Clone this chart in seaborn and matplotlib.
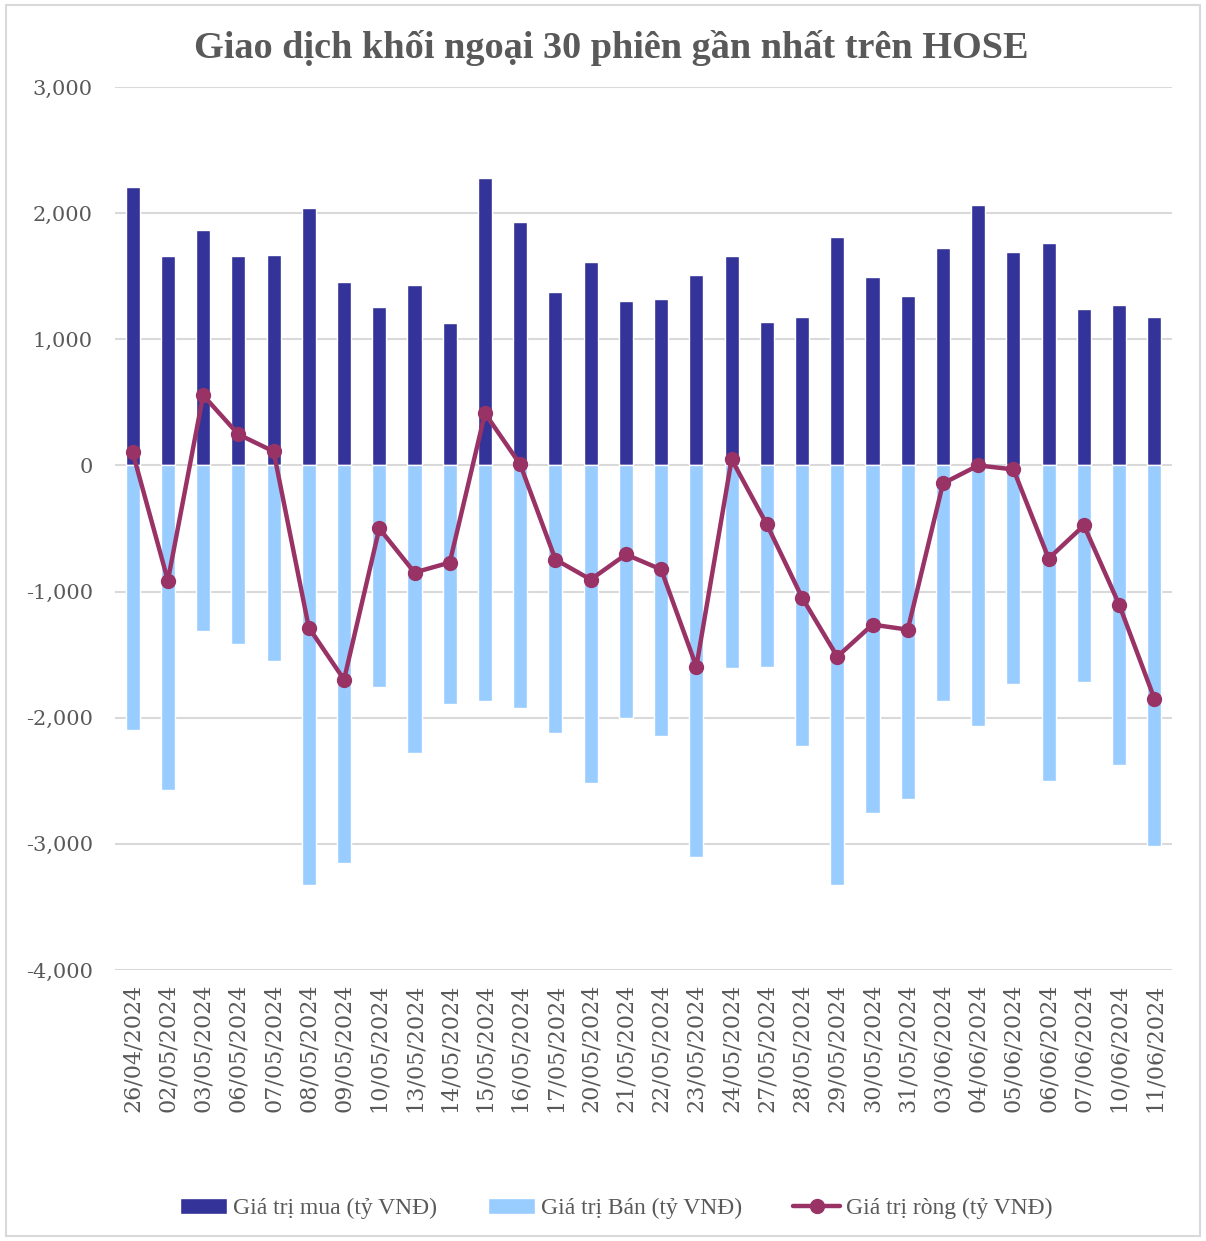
import numpy as np
import pandas as pd
import seaborn as sns
import matplotlib.pyplot as plt
from matplotlib.patches import Rectangle

sns.set_style("white")
plt.rcParams['font.family'] = ['Liberation Serif', 'DejaVu Serif']

dates = ["26/04/2024", "02/05/2024", "03/05/2024", "06/05/2024", "07/05/2024",
         "08/05/2024", "09/05/2024", "10/05/2024", "13/05/2024", "14/05/2024",
         "15/05/2024", "16/05/2024", "17/05/2024", "20/05/2024", "21/05/2024",
         "22/05/2024", "23/05/2024", "24/05/2024", "27/05/2024", "28/05/2024",
         "29/05/2024", "30/05/2024", "31/05/2024", "03/06/2024", "04/06/2024",
         "05/06/2024", "06/06/2024", "07/06/2024", "10/06/2024", "11/06/2024"]
buy = [2206, 1659, 1865, 1659, 1667, 2040, 1452, 1254, 1429, 1127,
       2278, 1929, 1373, 1611, 1302, 1317, 1508, 1659, 1135, 1175,
       1810, 1492, 1341, 1722, 2063, 1690, 1762, 1238, 1270, 1175]
sell = [-2095, -2571, -1310, -1413, -1548, -3325, -3151, -1754, -2278, -1889,
        -1865, -1921, -2119, -2516, -2000, -2143, -3103, -1603, -1595, -2222,
        -3325, -2754, -2643, -1865, -2063, -1730, -2500, -1714, -2373, -3016]
net = [103, -913, 556, 246, 111, -1286, -1698, -500, -849, -770,
       413, 8, -746, -905, -706, -825, -1595, 48, -468, -1048,
       -1516, -1262, -1302, -143, 0, -32, -738, -476, -1103, -1849]

df = pd.DataFrame({"date": dates, "buy": buy, "sell": sell, "net": net})

fig = plt.figure(figsize=(12.06, 12.41), dpi=100)
ax = fig.add_axes([0.0954, 0.2184, 0.8764, 0.7115])

sns.barplot(data=df, x="date", y="buy", color="#333399", width=0.4,
            saturation=1, ax=ax, label="Giá trị mua (tỷ VNĐ)", legend=False, zorder=2)
sns.barplot(data=df, x="date", y="sell", color="#99CCFF", width=0.4,
            saturation=1, ax=ax, label="Giá trị Bán (tỷ VNĐ)", legend=False, zorder=2)
ln, = ax.plot(np.arange(len(dates)), df["net"], color="#993366", lw=3.2,
              marker="o", markersize=10, label="Giá trị ròng (tỷ VNĐ)", zorder=3)

ax.set_ylim(-4000, 3000)
ax.set_xlim(-0.5, len(dates) - 0.5)
ax.set_yticks(range(-4000, 3001, 1000))
ax.set_yticklabels([f"{v:,}" for v in range(-4000, 3001, 1000)])
ax.yaxis.grid(True, color="#D9D9D9", lw=1.5, zorder=0)
ax.set_axisbelow(True)
for s in ax.spines.values():
    s.set_visible(False)
ax.tick_params(axis="y", labelcolor="#595959", length=0, pad=16)
ax.tick_params(axis="x", labelcolor="#595959", length=0, pad=10, labelrotation=90)
for t in ax.get_yticklabels():
    t.set_fontfamily("DejaVu Serif")
    t.set_fontsize(15)
for t in ax.get_xticklabels():
    t.set_fontfamily("DejaVu Serif")
    t.set_fontsize(16)
ax.set_xlabel("")
ax.set_ylabel("")

fig.text(0.507, 0.961, "Giao dịch khối ngoại 30 phiên gần nhất trên HOSE",
         ha="center", va="center", fontsize=27.5, fontweight="bold", color="#595959")

bars = [ax.containers[0], ax.containers[1]]
fig.legend(bars + [ln], ["Giá trị mua (tỷ VNĐ)", "Giá trị Bán (tỷ VNĐ)",
                         "Giá trị ròng (tỷ VNĐ)"],
           loc="center", bbox_to_anchor=(0.511, 0.026), ncol=3,
           frameon=False, fontsize=17, labelcolor="#595959", handlelength=2.0,
           handletextpad=0.25, columnspacing=2.15)

fig.patches.append(Rectangle((0.005, 0.004), 0.99, 0.992, transform=fig.transFigure,
                             fill=False, edgecolor="#D9D9D9", lw=1.5))

plt.savefig("out.png", dpi=100)
